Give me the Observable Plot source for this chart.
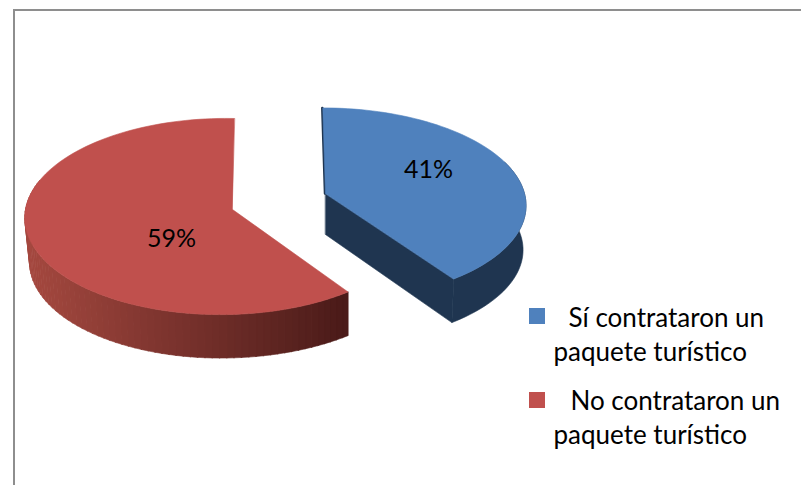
<!DOCTYPE html>
<html>
<head>
<meta charset="utf-8">
<script src="https://cdn.jsdelivr.net/npm/d3@7"></script>
<script src="https://cdn.jsdelivr.net/npm/@observablehq/plot@0.6"></script>
<style>
  html, body { margin: 0; padding: 0; background: #fff; overflow: hidden; }
  #chart { position: relative; width: 801px; height: 485px; }
  #frame { position: absolute; left: 13px; top: 9px; right: 0; bottom: 0;
           border-left: 2px solid #8e8e8e; border-top: 2px solid #8e8e8e; }
  #chart svg { position: absolute; left: 0; top: 0; background: transparent; }
</style>
</head>
<body>
<div id="chart"><div id="frame"></div></div>
<script>
const categories = ["Sí contrataron un paquete turístico", "No contrataron un paquete turístico"];
const shares = [41, 59];
const shareLabels = ["41%", "59%"];
const topColors = ["#4f81bd", "#c0504d"];
const legendFirstLines = ["Sí contrataron un", "No contrataron un"];
const legendSecondLines = ["paquete turístico", "paquete turístico"];

// view of the tilted, exploded pie
const depth = 44.5, lowerY = 0.99, angleScale = 0.982;
const views = [
  {ax: 325, ay: 193, rx: 199, ry: 95, tilt: 0.11, q: 0, s: 3, lowerRight: 0.985, lowerLeft: 0.977},
  {ax: 232, ay: 209, rx: 197.5, ry: 97.5, tilt: 0.0714, q: 0.046, s: -2, lowerRight: 1, lowerLeft: 0.977}
];
const project = (view, deg, lower) => {
  const a = deg * Math.PI / 180;
  const u = Math.sin(a), v = -Math.cos(a), w = 1 - view.tilt * v + view.q * u;
  const dx = (view.rx * u + view.s * v) / w, dy = view.ry * v / w;
  return lower
    ? {x: view.ax + dx * (u < 0 ? view.lowerLeft : view.lowerRight), y: view.ay + dy * lowerY + depth}
    : {x: view.ax + dx, y: view.ay + dy};
};

const split = 360 * shares[0] / d3.sum(shares) * angleScale;
const redWall = d3.interpolateRgb("#a4483f", "#4b1b19");
const blueWall = "#1f3550";
const polys = [];
const addPoly = (id, color, pts) => pts.forEach(p => polys.push({id, color, x: p.x, y: p.y}));

// blue walls: the cut face and the outer rim
{
  const v = views[0], c = {x: v.ax, y: v.ay};
  const rim = [];
  for (let d = 70; d <= split; d += 2) rim.push(project(v, d, false));
  rim.push(project(v, split, false));
  const rimLow = [project(v, split, true)];
  for (let d = Math.floor(split / 2) * 2; d >= 70; d -= 2) rimLow.push(project(v, d, true));
  addPoly("bw-cut", blueWall, [c, project(v, split, false), project(v, split, true), {x: c.x, y: c.y + depth - 3.5}]);
  addPoly("bw-rim", blueWall, rim.concat(rimLow));
}
// red outer wall, shaded in narrow strips
{
  const v = views[1];
  for (let d = split, i = 0; d < 285; d += 2, i++) {
    const a = project(v, d, false), b = project(v, d + 2.2, false);
    const c = project(v, d + 2.2, true), e = project(v, d, true);
    const t = (a.x - 30) / 315;
    addPoly("rw" + i, redWall(Math.max(0, Math.min(1, t))), [a, b, c, e]);
  }
}
// top faces
{
  const v0 = views[0], pts0 = [{x: v0.ax, y: v0.ay}];
  for (let d = 0; d <= split + 0.01; d += 2) pts0.push(project(v0, d, false));
  pts0.push(project(v0, split, false));
  addPoly("top0", topColors[0], pts0);
  const v1 = views[1], pts1 = [{x: v1.ax, y: v1.ay}];
  for (let d = split; d <= 360.01; d += 2) pts1.push(project(v1, d, false));
  pts1.push(project(v1, 360, false));
  addPoly("top1", topColors[1], pts1);
}

const v0 = views[0];
const blueEdge = [project(v0, 0, false), {x: v0.ax, y: v0.ay}];
const sliceLabels = shareLabels.map((label, i) => ({label, x: [428, 171][i], y: [169, 238][i]}));
const legend = categories.map((c, i) => ({
  c, color: topColors[i], top: 308 + 84 * i, nudge: -i,
  first: legendFirstLines[i], second: legendSecondLines[i]
}));

const chart = Plot.plot({
  width: 801, height: 485,
  margin: 0,
  x: {domain: [0, 801], range: [0, 801], axis: null},
  y: {domain: [0, 485], range: [0, 485], axis: null},
  color: {type: "identity"},
  style: {background: "transparent"},
  marks: [
    Plot.line(blueEdge, {x: "x", y: "y", stroke: blueWall, strokeWidth: 2.5, dx: -0.5}),
    Plot.line(polys, {x: "x", y: "y", z: "id", fill: "color", stroke: "color",
      strokeWidth: 0.6, curve: "linear-closed"}),
    Plot.text(sliceLabels, {x: "x", y: "y", text: "label", fontSize: 25,
      fontFamily: "Lato", fill: "#000"}),
    Plot.rect(legend, {x1: () => 529, x2: () => 545, y1: "top", y2: d => d.top + 16, fill: "color"}),
    Plot.text(legend, {x: (d, i) => [568, 570][i], y: d => d.top + 10 + d.nudge, text: "first", textAnchor: "start",
      fontSize: 26, fontFamily: "Lato", fill: "#000"}),
    Plot.text(legend, {x: () => 553, y: d => d.top + 44 + d.nudge, text: "second", textAnchor: "start",
      fontSize: 26, fontFamily: "Lato", fill: "#000"})
  ]
});
document.getElementById("chart").appendChild(chart);
</script>
</body>
</html>
